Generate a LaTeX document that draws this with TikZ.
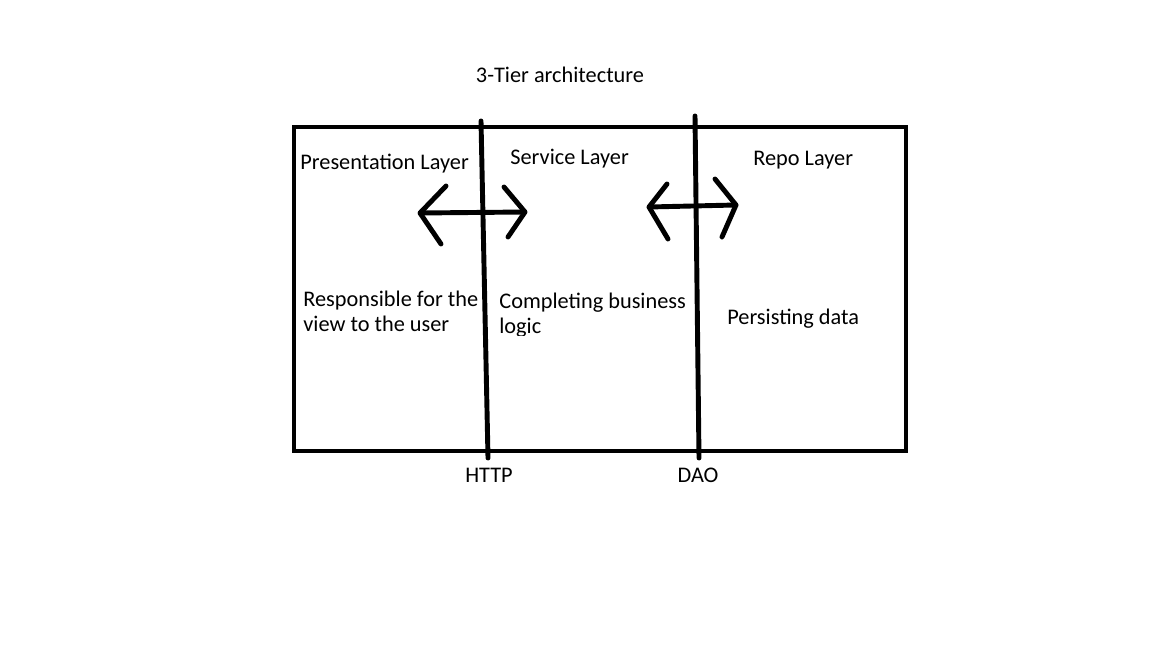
\documentclass[tikz,border=0pt]{standalone}
\usepackage{fontspec}
\setmainfont{Carlito}
\begin{document}
\begin{tikzpicture}[x=0.02cm,y=-0.02cm,
    pen/.style={line width=2.8pt, line cap=round, line join=round},
    lbl/.style={inner sep=0pt, font=\fontsize{12.7}{14.7}\selectfont}]

\useasboundingbox (0,0) rectangle (1152,648);

% outer box
\draw [line width=2.8pt] (294,127) rectangle (906,451);

% the two tier borders
\coordinate (httptop) at (481,121);
\coordinate (httpbot) at (488,458);
\coordinate (daotop) at (695,116);
\coordinate (daobot) at (699,458);
\draw [pen] (httptop) -- (httpbot);
\draw [pen] (daotop) -- (daobot);

% hand drawn double arrows
\coordinate (a1l) at (420,213);
\coordinate (a1r) at (525,212);
\draw [pen] (a1l) -- (a1r);
\draw [pen] (446,186) -- (a1l) -- (441,244);
\draw [pen] (504,187) -- (a1r) -- (508,237);

\coordinate (a2l) at (649,207);
\coordinate (a2r) at (736,205);
\draw [pen] (a2l) -- (a2r);
\draw [pen] (667,184) -- (a2l) -- (668,239);
\draw [pen] (715,179) -- (a2r) -- (722,237);

% texts
\node [lbl, anchor=base] (title) at (560,83) {3-Tier architecture};

\node [lbl, anchor=base west] (pres) at (300,170) {Presentation Layer};
\node [lbl, anchor=base west] (serv) at (510,165) {Service Layer};
\node [lbl, anchor=base west] (repo) at (753,166) {Repo Layer};

\node [lbl, anchor=base west, align=left] (presinfo) at (303,332) {Responsible for the\\view to the user};
\begin{scope}
\clip (490,280) rectangle (690,335);
\node [lbl, anchor=base west, align=left] (servinfo) at (499,334) {Completing business\\logic};
\end{scope}
\node [lbl, anchor=base west] (repoinfo) at (727,324) {Persisting data};

\node [lbl, anchor=base] (http) at (489,482) {HTTP};
\node [lbl, anchor=base] (dao) at (698,482) {DAO};

\end{tikzpicture}
\end{document}
